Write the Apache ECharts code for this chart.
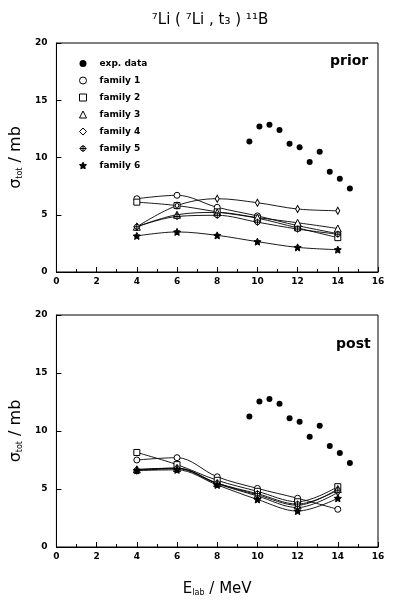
<!DOCTYPE html>
<html>
<head>
<meta charset="utf-8">
<script src="https://cdn.jsdelivr.net/npm/echarts@6/dist/echarts.min.js"></script>
<style>
  html, body { margin: 0; padding: 0; background: #fff; }
  #chart { width: 399px; height: 604px; }
</style>
</head>
<body>
<div id="chart"></div>
<script>
// energies of the family calculations (MeV)
var energies = [4, 6, 8, 10, 12, 14];
// measured cross sections
var expEnergy = [9.6, 10.1, 10.6, 11.1, 11.6, 12.1, 12.6, 13.1, 13.6, 14.1, 14.6];
var expPrior = [11.4, 12.7, 12.85, 12.4, 11.2, 10.9, 9.6, 10.5, 8.75, 8.15, 7.3];
var expPost = [11.25, 12.55, 12.75, 12.35, 11.1, 10.8, 9.5, 10.45, 8.7, 8.1, 7.25];

var familyNames = ['family 1', 'family 2', 'family 3', 'family 4', 'family 5', 'family 6'];

// prior form
var prior1 = [6.4, 6.7, 5.65, 4.9, 4.05, 3.35];
var prior2 = [6.1, 5.8, 5.25, 4.7, 3.85, 3.0];
var prior3 = [3.95, 5.0, 5.2, 4.75, 4.3, 3.8];
var prior4 = [3.95, 5.8, 6.4, 6.05, 5.5, 5.35];
var prior5 = [3.95, 4.85, 4.95, 4.35, 3.75, 3.3];
var prior6 = [3.15, 3.5, 3.2, 2.65, 2.15, 1.95];

// post form
var post1 = [7.5, 7.7, 6.05, 5.05, 4.2, 3.25];
var post2 = [8.15, 7.1, 5.75, 4.8, 3.9, 5.2];
var post3 = [6.7, 6.8, 5.5, 4.5, 3.6, 5.0];
var post4 = [6.6, 6.75, 5.45, 4.4, 3.4, 4.7];
var post5 = [6.65, 6.8, 5.5, 4.6, 3.7, 4.9];
var post6 = [6.6, 6.65, 5.35, 4.1, 3.1, 4.2];

var xTicks = [0, 2, 4, 6, 8, 10, 12, 14, 16];
var yTicks = [0, 5, 10, 15, 20];

var crossCircle = 'path://M5,0 A5,5 0 1,1 -5,0 A5,5 0 1,1 5,0 Z M0,-7 L0,7 M-7,0 L7,0';
var star = 'path://M0,-10 L2.9,-4 L9.5,-3.1 L4.8,1.5 L5.9,8.1 L0,5 L-5.9,8.1 L-4.8,1.5 L-9.5,-3.1 L-2.9,-4 Z';
var symbols = ['circle', 'rect', 'triangle', 'diamond', crossCircle, star];
var symbolSizes = [6, 6, 7, [4, 7], 7, 7];
var symbolFill = ['#fff', '#fff', '#fff', '#fff', '#fff', '#000'];

var font = 'DejaVu Sans';

function pairs(xs, ys) {
  return xs.map(function (x, i) { return [x, ys[i]]; });
}

function axesFor(idx, showName) {
  var x = {
    type: 'value', gridIndex: idx, min: xTicks[0], max: xTicks[xTicks.length - 1], interval: 2,
    axisLine: { lineStyle: { color: '#000', width: 1 } },
    axisTick: { inside: true, length: 5, lineStyle: { color: '#000' } },
    minorTick: { show: true, splitNumber: 2, length: 3, lineStyle: { color: '#000' } },
    splitLine: { show: false },
    axisLabel: { color: '#000', fontSize: 9, fontWeight: 'bold', fontFamily: font, margin: 5 }
  };
  if (showName) {
    x.name = 'E{sub|lab} / MeV';
    x.nameLocation = 'middle';
    x.nameGap = 35;
    x.nameTextStyle = {
      color: '#000', fontSize: 15, fontFamily: font,
      rich: { sub: { fontSize: 8, verticalAlign: 'bottom', padding: [6, 0, 0, 0], fontFamily: font } }
    };
  }
  var y = {
    type: 'value', gridIndex: idx, min: yTicks[0], max: yTicks[yTicks.length - 1], interval: 5,
    name: 'σ{sub|tot} / mb', nameLocation: 'middle', nameGap: 27,
    nameTextStyle: {
      color: '#000', fontSize: 16, fontFamily: font,
      rich: { sub: { fontSize: 8, verticalAlign: 'bottom', padding: [6, 0, 0, 0], fontFamily: font } }
    },
    axisLine: { lineStyle: { color: '#000', width: 1 } },
    axisTick: { inside: true, length: 5, lineStyle: { color: '#000' } },
    splitLine: { show: false },
    axisLabel: { color: '#000', fontSize: 9, fontWeight: 'bold', fontFamily: font, margin: 9 }
  };
  return { x: x, y: y };
}

function seriesFor(idx, expVals, fams) {
  var out = [{
    name: 'exp. data', type: 'scatter', xAxisIndex: idx, yAxisIndex: idx,
    symbol: 'circle', symbolSize: 6,
    itemStyle: { color: '#000', opacity: 1 },
    data: pairs(expEnergy, expVals)
  }];
  fams.forEach(function (vals, i) {
    out.push({
      name: familyNames[i], type: 'line', xAxisIndex: idx, yAxisIndex: idx,
      smooth: 0.35, symbol: symbols[i], symbolSize: symbolSizes[i], showSymbol: true,
      lineStyle: { color: '#000', width: 0.9 },
      itemStyle: { color: symbolFill[i], borderColor: '#000', borderWidth: 1 },
      data: pairs(energies, vals)
    });
  });
  return out;
}

var priorAxes = axesFor(0, false);
var postAxes = axesFor(1, true);

var legendData = [{ name: 'exp. data', icon: 'circle', itemStyle: { color: '#000', borderWidth: 0 } }];
familyNames.forEach(function (n, i) {
  legendData.push({ name: n, icon: symbols[i], itemStyle: { color: symbolFill[i], borderColor: '#000', borderWidth: 1 } });
});

var chart = echarts.init(document.getElementById('chart'));
chart.setOption({
  animation: false,
  title: {
    text: '⁷Li ( ⁷Li , t₃ ) ¹¹B', left: 205, top: 8, textAlign: 'center',
    textStyle: { fontSize: 15, fontWeight: 'normal', fontFamily: font, color: '#000' }
  },
  grid: [
    { left: 53, right: 21, top: 43, height: 229, show: true, borderColor: '#000', borderWidth: 1 },
    { left: 53, right: 21, top: 315, height: 232, show: true, borderColor: '#000', borderWidth: 1 }
  ],
  legend: {
    orient: 'vertical', left: 74, top: 54, itemWidth: 7, itemHeight: 7, itemGap: 8,
    textStyle: { fontSize: 9, fontWeight: 'bold', fontFamily: font, color: '#000', padding: [0, 0, 0, 8] },
    data: legendData
  },
  xAxis: [priorAxes.x, postAxes.x],
  yAxis: [priorAxes.y, postAxes.y],
  graphic: [
    { type: 'text', left: 330, top: 54, style: { text: 'prior', fontSize: 14, fontWeight: 'bold', fontFamily: font, fill: '#000' } },
    { type: 'text', left: 336, top: 337, style: { text: 'post', fontSize: 14, fontWeight: 'bold', fontFamily: font, fill: '#000' } }
  ],
  series: seriesFor(0, expPrior, [prior1, prior2, prior3, prior4, prior5, prior6])
    .concat(seriesFor(1, expPost, [post1, post2, post3, post4, post5, post6]))
});
</script>
</body>
</html>
